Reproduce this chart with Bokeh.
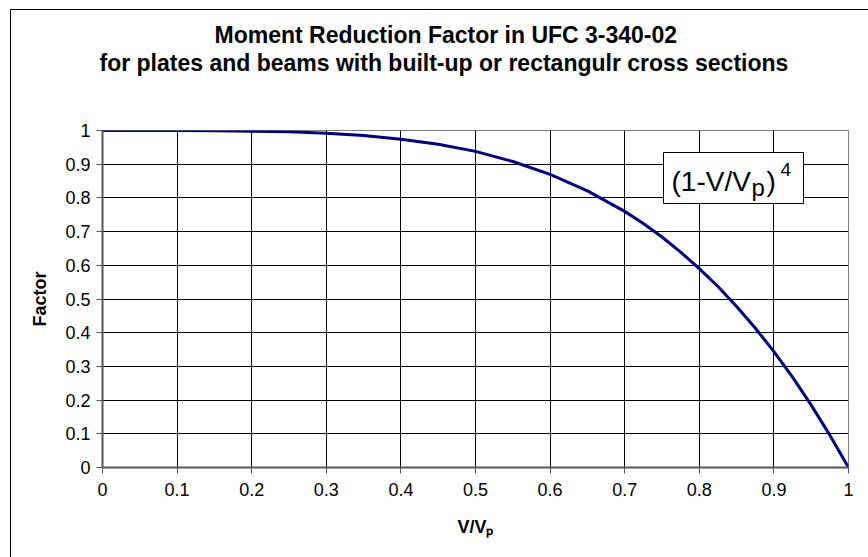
import math
from bokeh.plotting import figure
from bokeh.models import (FixedTicker, Label, BoxAnnotation, Range1d, InlineStyleSheet, Title)
from bokeh.embed import file_html
from bokeh.resources import INLINE

# ---- data ----
ratio = [0, 0.05, 0.1, 0.15, 0.2, 0.25, 0.3, 0.35, 0.4, 0.45, 0.5, 0.55, 0.6, 0.65,
         0.7, 0.725, 0.75, 0.775, 0.8, 0.825, 0.85, 0.875, 0.9, 0.925, 0.95, 0.975, 1.0]
factor = [1.000, 1.000, 1.000, 0.999, 0.998, 0.996, 0.992, 0.985, 0.974, 0.959, 0.938,
          0.908, 0.870, 0.821, 0.760, 0.724, 0.684, 0.639, 0.590, 0.537, 0.478, 0.414,
          0.344, 0.268, 0.185, 0.096, 0.000]
x_ticks = [0, 0.1, 0.2, 0.3, 0.4, 0.5, 0.6, 0.7, 0.8, 0.9, 1.0]
x_tick_labels = ["0", "0.1", "0.2", "0.3", "0.4", "0.5", "0.6", "0.7", "0.8", "0.9", "1"]
y_ticks = [0, 0.1, 0.2, 0.3, 0.4, 0.5, 0.6, 0.7, 0.8, 0.9, 1.0]
y_tick_labels = ["0", "0.1", "0.2", "0.3", "0.4", "0.5", "0.6", "0.7", "0.8", "0.9", "1"]
title_line1 = "Moment Reduction Factor in UFC 3-340-02"
title_line2 = "for plates and beams with built-up or rectangulr cross sections"
x_title = "V/V\u209a"
y_title = "Factor"

FONT = "Liberation Sans"

# page-pixel -> data helpers for placing text inside the plot area (layout only)
X0, X1 = 102.0, 848.0
Y0, Y1 = 467.0, 130.0
def dx(px):
    return (px - X0) / (X1 - X0)
def dy(py):
    return (Y0 - py) / (Y0 - Y1)

p = figure(width=868, height=557, output_backend="svg", toolbar_location=None,
           x_range=Range1d(0, 1), y_range=Range1d(0, 1), title=None,
           min_border_left=102, min_border_right=20, min_border_top=130, min_border_bottom=90)
p.border_fill_color = None
p.background_fill_color = "white"
p.outline_line_color = "#808080"
p.outline_line_width = 1
p.stylesheets = [InlineStyleSheet(css=":host { box-shadow: inset 10px 9px 0 0 #ffffff, inset 11px 10px 0 0 #000000; }")]

# two-line title (spacer closest to the plot, then line 2, then line 1)
spacer = Title(text=" ", text_font_size="1px", standoff=52)
t2 = Title(text=title_line2, align="left", offset=-3, standoff=0, text_font=FONT,
           text_font_size="23px", text_font_style="bold", text_color="#000000")
t1 = Title(text=title_line1, align="left", offset=112, standoff=0, text_font=FONT,
           text_font_size="23px", text_font_style="bold", text_color="#000000")
p.add_layout(spacer, "above")
p.add_layout(t2, "above")
p.add_layout(t1, "above")

for ax, ticks, labels in ((p.xaxis[0], x_ticks, x_tick_labels), (p.yaxis[0], y_ticks, y_tick_labels)):
    ax.ticker = FixedTicker(ticks=ticks)
    ax.major_label_overrides = {t: l for t, l in zip(ticks, labels)}
    ax.minor_tick_line_color = None
    ax.major_tick_in = 0
    ax.major_tick_out = 6
    ax.major_tick_line_color = "#555555"
    ax.axis_line_color = "#555555"
    ax.axis_line_width = 2
    ax.major_label_text_font = FONT
    ax.major_label_text_font_size = "18px"
    ax.major_label_text_color = "#000000"
    ax.axis_label_text_font = FONT
    ax.axis_label_text_font_size = "18px"
    ax.axis_label_text_font_style = "bold"
    ax.axis_label_text_color = "#000000"

p.xaxis.major_label_standoff = 9
p.yaxis.major_label_standoff = 6
p.xaxis.axis_label = x_title
p.yaxis.axis_label = y_title
p.xaxis.axis_label_standoff = 18
p.yaxis.axis_label_standoff = 12

p.xgrid.ticker = FixedTicker(ticks=x_ticks)
p.ygrid.ticker = FixedTicker(ticks=y_ticks)
p.grid.grid_line_color = "#000000"
p.grid.grid_line_width = 1

p.line(ratio, factor, line_color="#000080", line_width=3)

# formula box
p.add_layout(BoxAnnotation(left=dx(663), right=dx(803), top=dy(152), bottom=dy(203),
                           fill_color="white", fill_alpha=1.0, line_color="black",
                           line_width=1, line_alpha=1.0, level="annotation"))
p.add_layout(Label(x=dx(671), y=dy(181), text="(1-V/V", text_font=FONT, text_font_size="28px",
                   text_color="#000000", text_align="left", text_baseline="alphabetic"))
p.add_layout(Label(x=dx(751), y=dy(187), text="p", text_font=FONT, text_font_size="24px",
                   text_color="#000000", text_align="left", text_baseline="alphabetic"))
p.add_layout(Label(x=dx(766), y=dy(181), text=")", text_font=FONT, text_font_size="28px",
                   text_color="#000000", text_align="left", text_baseline="alphabetic"))
p.add_layout(Label(x=dx(780), y=dy(169), text="4", text_font=FONT, text_font_size="19px",
                   text_color="#000000", text_align="left", text_baseline="alphabetic"))

open("out.html", "w").write(file_html(p, INLINE))
